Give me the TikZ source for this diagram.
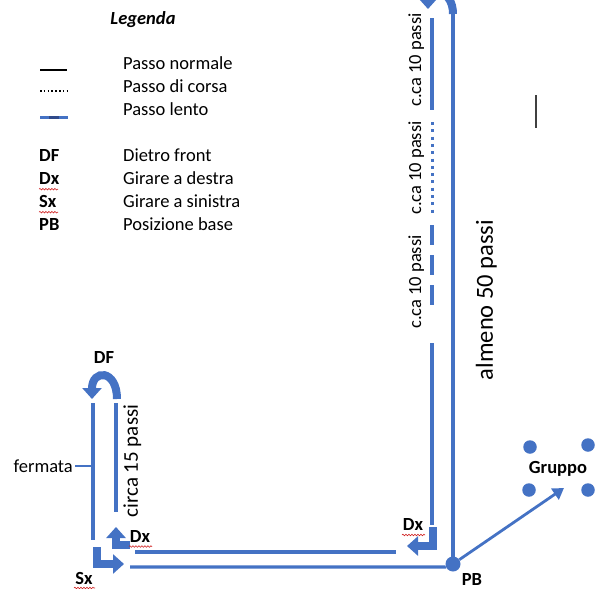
\documentclass[tikz,border=0pt]{standalone}
\usepackage{fontspec}
\setmainfont{Carlito}
\usetikzlibrary{arrows.meta,decorations.pathmorphing}
\definecolor{pblue}{HTML}{4472C4}
\definecolor{pdark}{HTML}{2F4A8A}
\definecolor{wavered}{HTML}{D02020}
\begin{document}
\begin{tikzpicture}[x=1pt,y=-1pt,
  txt/.style={inner sep=0pt, text depth=0pt, text height=12pt, font=\fontsize{18.5}{22}\selectfont},
  btxt/.style={inner sep=0pt, text depth=0pt, text height=12pt, font=\fontsize{18.5}{22}\selectfont\bfseries},
  midtxt/.style={inner sep=0pt, text depth=0pt, text height=13.5pt, font=\fontsize{21}{24}\selectfont},
  bigtxt/.style={inner sep=0pt, text depth=0pt, text height=15.8pt, font=\fontsize{24.5}{28}\selectfont},
  pline/.style={pblue, line width=3.3pt},
  bigarrow/.style={pblue, line width=8pt, line join=miter, -{Triangle[width=19pt,length=11pt]}},
  wavy/.style={wavered, line width=0.6pt, decorate, decoration={snake, amplitude=0.8pt, segment length=3pt}},
  dotnode/.style={circle, fill=pblue, minimum size=13.5pt, inner sep=0pt},
]
\useasboundingbox (0,0) rectangle (595,589);
\clip (0,0) rectangle (595,589);

% ---------- Legend ----------
\node[txt, font=\fontsize{18.5}{22}\selectfont\bfseries\itshape] (leg) at (143,18) {Legenda};
\draw[black, line width=1.2pt] (40,70) -- (67,70);
\draw[black, line width=1.6pt, dash pattern=on 1.6pt off 2.2pt] (40,91) -- (67,91);
\draw[pblue, line width=3pt] (40,117) -- (68,117);
\draw[pdark, line width=3pt] (49,117) -- (59,117);
\node[txt, anchor=west] (l1) at (123,63) {Passo normale};
\node[txt, anchor=west] (l2) at (123,86) {Passo di corsa};
\node[txt, anchor=west] (l3) at (123,109) {Passo lento};
\node[btxt, anchor=west] (a1) at (39,155) {DF};
\node[btxt, anchor=west] (a2) at (39,178) {Dx};
\node[btxt, anchor=west] (a3) at (39,201) {Sx};
\node[btxt, anchor=west] (a4) at (39,224) {PB};
\draw[wavy] (a2.south west) ++(0,5) -- ++(19,0);
\draw[wavy] (a3.south west) ++(0,5) -- ++(19,0);
\node[txt, anchor=west] (d1) at (123,155) {Dietro front};
\node[txt, anchor=west] (d2) at (123,178) {Girare a destra};
\node[txt, anchor=west] (d3) at (123,201) {Girare a sinistra};
\node[txt, anchor=west] (d4) at (123,224) {Posizione base};

% stray vertical mark
\coordinate (m1) at (536,95);
\coordinate (m2) at (536,128);
\draw[black!75, line width=1.5pt] (m1) -- (m2);

% ---------- Main route ----------
\node[dotnode, minimum size=15pt] (pb) at (453,564) {};
\node[btxt] (pblab) at (472,579) {PB};

% right long line (almeno 50 passi)
\coordinate (rtop) at (453,14);
\draw[pline] (rtop) -- (pb.center);
\node[bigtxt, rotate=90] (l50) at (485,300) {almeno 50 passi};

% top U-turn (cropped)
\draw[bigarrow] (453,14) .. controls (453,-12) and (428,-12) .. (428,9);

% left return line x=432
\coordinate (s1a) at (432,18);  \coordinate (s1b) at (432,110);
\coordinate (s2a) at (432,122); \coordinate (s2b) at (432,215);
\coordinate (s3a) at (432,225); \coordinate (s3b) at (432,305);
\coordinate (s4a) at (432,343); \coordinate (s4b) at (432,525);
\draw[pline] (s1a) -- (s1b);
\draw[pblue, line width=3pt, dash pattern=on 3pt off 4.3pt] (s2a) -- (s2b);
\draw[pline, dash pattern=on 20pt off 10pt] (s3a) -- (s3b);
\draw[pline] (s4a) -- (s4b);
\node[txt, rotate=90] (c1) at (415,60) {c.ca 10 passi};
\node[txt, rotate=90] (c2) at (415,168) {c.ca 10 passi};
\node[txt, rotate=90] (c3) at (415,282) {c.ca 10 passi};

% right Dx bent arrow
\draw[bigarrow] (433,527) -- (433,546) -- (407,546);
\node[btxt] (dxr) at (413,524) {Dx};
\draw[wavy] (402,535) -- (425,535);

% bottom horizontal lines
\coordinate (u1) at (135,552);
\coordinate (u2) at (396,552);
\draw[pline] (u1) -- (u2);
\coordinate (w1) at (130,567);
\draw[pline] (w1) -- (pb.west |- w1) -- (pb);

% arrow to Gruppo
\coordinate (gtip) at (564,488);
\draw[pblue, line width=2.8pt, -{Triangle[width=13pt,length=11pt]}] (pb) -- (gtip);

% Gruppo
\node[dotnode] (g1) at (530,447) {};
\node[dotnode] (g2) at (588,445) {};
\node[dotnode] (g3) at (529,490) {};
\node[dotnode] (g4) at (588,490) {};
\node[btxt] (grp) at (558,467) {Gruppo};

% ---------- left loop ----------
\coordinate (fl1) at (93,403);  \coordinate (fl2) at (93,540);
\coordinate (fr1) at (116,403); \coordinate (fr2) at (116,512);
\draw[pline] (fl1) -- (fl2);
\draw[pline] (fr1) -- (fr2);
\node[txt, anchor=east] (ferm) at (73,466) {fermata};
\draw[pline, line width=2.5pt] (ferm.east) ++(2,0) -- (fl1 |- ferm.east);
\node[midtxt, rotate=90] (c15) at (131,461) {circa 15 passi};

% DF U-turn
\draw[bigarrow] (117,399) .. controls (117,369) and (92,369) .. (92,399);
\node[btxt] (df) at (104,357) {DF};

% left Dx bent arrow
\draw[bigarrow] (130,545) -- (116,545) -- (116,527);
\node[btxt] (dxl) at (140,536) {Dx};
\draw[wavy] (129,546.5) -- (152,546.5);

% Sx bent arrow
\draw[bigarrow] (97,547) -- (97,564) -- (124,564);
\node[btxt] (sx) at (84,578) {Sx};
\draw[wavy] (74,588) -- (95,588);
\end{tikzpicture}
\end{document}
